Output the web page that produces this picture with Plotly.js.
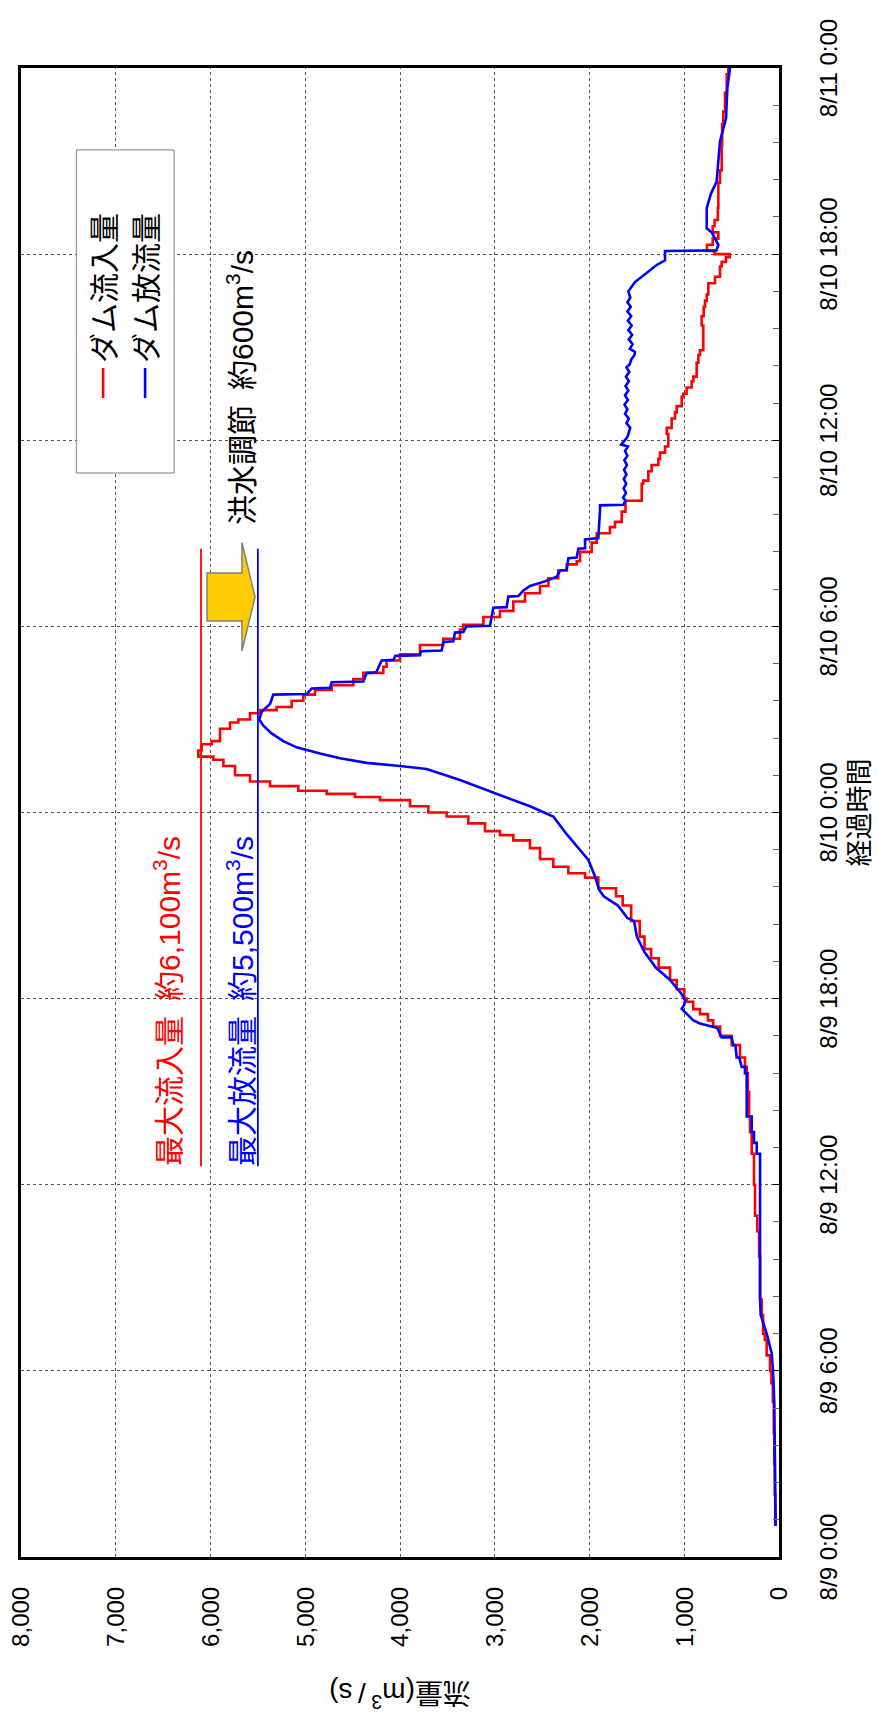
<!DOCTYPE html>
<html>
<head>
<meta charset="utf-8">
<script src="https://cdn.plot.ly/plotly-3.0.1.min.js"></script>
<style>
html, body { margin:0; padding:0; width:877px; height:1722px; overflow:hidden; background:#fff; }
#wrap { position:absolute; left:0; top:0; width:1722px; height:877px; transform-origin:0 0; transform: translateY(1722px) rotate(-90deg); }
#chart { width:1722px; height:877px; }
</style>
</head>
<body>
<div id="wrap"><div id="chart"></div></div>
<script>
// ---- data (hours from 8/9 0:00, flow m3/s) ----
const tickHours = [0, 6, 12, 18, 24, 30, 36, 42, 48];
const tickLabels = ['8/9 0:00','8/9 6:00','8/9 12:00','8/9 18:00','8/10 0:00','8/10 6:00','8/10 12:00','8/10 18:00','8/11 0:00'];

const inflowHours = [1.0,2.0,3.0,4.0,5.0,5.6,6.0,6.5,7.0,7.2,7.8,8.3,9.7,10.5,11.0,12.0,13.0,13.7,14.2,15.0,15.6,15.8,16.1,16.5,16.8,17.1,17.3,17.5,17.66,17.9,18.0,18.3,18.6,19.0,19.3,19.6,20.0,20.5,21.0,21.3,21.56,21.9,22.04,22.25,22.5,22.85,23.1,23.27,23.4,23.65,23.87,24.0,24.2,24.4,24.5,24.6,24.7,24.85,25.0,25.2,25.5,25.7,25.8,26.0,26.2,26.3,26.7,26.9,27.0,27.2,27.3,27.4,27.6,27.8,27.95,28.1,28.3,28.5,28.7,28.9,29.1,29.4,29.6,29.9,30.05,30.3,30.5,30.8,31.07,31.3,31.55,31.8,32.0,32.1,32.4,32.7,33.0,33.2,33.37,33.7,34.05,34.6,34.7,35.0,35.2,35.4,35.6,35.8,36.2,36.4,36.7,36.9,37.1,37.4,37.5,37.7,37.9,38.05,38.5,38.75,38.9,39.7,40.0,40.3,40.5,40.7,41.06,41.27,41.6,41.75,41.9,42.0,42.1,42.3,42.5,42.7,42.9,43.1,43.5,44.3,44.7,45.5,46.2,46.6,47.2,47.8,48.0];
const inflowValues = [40,45,50,55,65,80,95,130,150,168,183,200,210,230,253,264,288,306,316,330,341,359,412,500,622,694,750,834,905,974,1000,1080,1150,1270,1350,1420,1470,1560,1650,1720,1907,2047,2223,2382,2522,2628,2804,2945,3103,3279,3507,3701,3894,4211,4475,4774,5073,5372,5583,5741,5864,5970,6128,6093,5988,5900,5794,5706,5583,5478,5302,5143,5020,4897,4721,4493,4387,4176,4141,4000,3789,3543,3367,3332,3120,2945,2804,2681,2522,2434,2330,2240,2135,2100,1977,1924,1784,1731,1660,1620,1449,1432,1379,1344,1273,1256,1203,1168,1185,1133,1098,1080,1027,1010,975,922,904,869,851,834,799,816,795,781,763,746,675,623,605,560,520,680,760,700,640,700,680,645,640,623,605,600,588,570,552,535,535];

const outflowHours = [1.0,3.0,5.0,6.0,6.56,7.2,7.8,8.3,12.0,13.0,13.0,13.35,13.35,13.7,13.7,14.2,14.2,15.6,15.6,15.8,15.8,16.1,16.1,16.5,16.5,16.75,16.75,17.05,17.1,17.2,17.3,17.5,17.67,17.8,17.96,18.2,18.6,19.0,19.5,20.0,20.5,20.6,21.0,21.3,21.5,22.0,22.47,23.3,23.87,24.2,24.6,25.05,25.4,25.5,25.6,25.75,25.9,26.1,26.3,26.55,26.8,27.0,27.25,27.5,27.8,27.82,28.0,28.02,28.2,28.22,28.5,28.52,28.9,28.92,29.05,29.07,29.2,29.22,29.5,29.52,29.8,29.82,30.0,30.02,30.6,30.62,30.96,30.98,31.15,31.3,31.45,31.6,31.8,31.82,32.2,32.22,32.5,32.52,32.8,32.82,32.85,33.75,33.9,33.92,34.05,34.15,34.3,34.45,34.6,34.75,34.9,35.05,35.2,35.35,35.5,35.65,35.8,35.86,35.95,36.1,36.25,36.4,36.55,36.7,36.85,37.0,37.15,37.3,37.45,37.6,37.75,37.9,38.05,38.2,38.35,38.45,38.6,38.75,38.85,38.95,39.1,39.25,39.4,39.55,39.7,39.85,40.0,40.15,40.3,40.45,40.6,40.8,41.1,41.27,41.5,41.65,41.8,42.1,42.12,42.3,42.7,42.83,43.48,43.96,44.34,45.63,46.38,47.35,48.0];
const outflowValues = [35,40,50,63,77,130,193,200,200,200,235,235,264,264,288,288,341,341,359,359,394,420,447,460,482,500,605,650,711,834,904,974,1027,1000,992,1040,1150,1300,1420,1500,1530,1600,1700,1850,1896,1950,2012,2241,2382,2628,2980,3367,3719,4000,4352,4633,4844,5091,5231,5355,5442,5485,5460,5372,5337,4985,4932,4739,4721,4387,4352,4250,4194,4070,4050,3789,3780,3560,3543,3437,3420,3330,3300,3050,3015,2874,2857,2750,2700,2628,2470,2346,2311,2241,2223,2135,2118,2047,2047,1942,1907,1889,1889,1643,1620,1645,1615,1640,1612,1638,1610,1635,1605,1632,1600,1625,1595,1665,1640,1600,1585,1570,1610,1585,1625,1600,1630,1595,1625,1590,1620,1585,1615,1580,1610,1575,1560,1525,1520,1575,1545,1585,1550,1590,1555,1595,1560,1600,1565,1600,1570,1590,1520,1449,1361,1291,1203,1203,660,640,710,763,763,717,658,623,559,545,517];

const maxInflow = 6100;
const maxOutflow = 5500;
const labelInflow = '最大流入量\u2002約6,100m<sup>3</sup>/s';
const labelOutflow = '最大放流量\u2002約5,500m<sup>3</sup>/s';
const labelControl = '洪水調節\u2002約600m<sup>3</sup>/s';

const FONT = 'Liberation Sans, Arial, Noto Sans CJK JP, sans-serif';

const traces = [
  {x: inflowHours, y: inflowValues, type:'scatter', mode:'lines', name:'ダム流入量', legendgroup:'a',
   line:{color:'#ff0000', width:2.6, shape:'hv'}},
  {x: outflowHours, y: outflowValues, type:'scatter', mode:'lines', name:'ダム放流量', legendgroup:'b',
   line:{color:'#0000ff', width:2.6}}
];

// arrow geometry (data units)
const arrowPath = 'M30.17,6037 L31.72,6037 L31.72,5668 L32.7,5668 L30.95,5530 L29.2,5668 L30.17,5668 Z';

const layout = {
  width:1722, height:877,
  margin:{l:165, r:68, t:21, b:98},
  paper_bgcolor:'#fff', plot_bgcolor:'#fff',
  font:{family:FONT, size:24, color:'#000'},
  showlegend:true,
  legend:{x:0.775, y:0.926, xanchor:'left', yanchor:'top', bgcolor:'rgba(0,0,0,0)', borderwidth:0,
          font:{size:30, family:FONT}, tracegroupgap:10, traceorder:'normal'},
  xaxis:{range:[0,48], tickmode:'array', tickvals:tickHours, ticktext:tickLabels,
         ticks:'inside', ticklen:6, tickcolor:'#000', tickwidth:1,
         showline:true, linecolor:'#000', linewidth:3, mirror:true,
         showgrid:true, gridcolor:'#555', griddash:'dot', gridwidth:1, zeroline:false,
         minor:{tick0:0, dtick:1.2, ticks:'inside', ticklen:6, tickcolor:'#666', showgrid:false},
         tickfont:{size:24}, ticklabelstandoff:26,
         title:{text:'経過時間', font:{size:27}, standoff:10}, automargin:false},
  yaxis:{range:[0,8000], tickmode:'linear', tick0:0, dtick:1000, tickformat:',d',
         ticks:'', showline:true, linecolor:'#000', linewidth:3, mirror:true,
         showgrid:true, gridcolor:'#555', griddash:'dot', gridwidth:1, zeroline:false,
         tickfont:{size:24}, ticklabelstandoff:22,
         title:{text:'流量(m<sup>3</sup>\u2009/\u2009s)', font:{size:28}, standoff:28}, automargin:false},
  shapes:[
    {type:'rect', xref:'paper', yref:'paper', x0:0.728, x1:0.945, y0:0.798, y1:0.927,
     line:{color:'#808080', width:1}, fillcolor:'#fff', layer:'above'},
    {type:'line', xref:'x', yref:'y', x0:12.6, x1:32.5, y0:maxInflow, y1:maxInflow, line:{color:'#ff0000', width:1.8}},
    {type:'line', xref:'x', yref:'y', x0:12.6, x1:32.5, y0:maxOutflow, y1:maxOutflow, line:{color:'#0000ff', width:1.8}},
    {type:'path', xref:'x', yref:'y', path:arrowPath, fillcolor:'#ffcc00', line:{color:'#808080', width:1.5}}
  ],
  annotations:[
    {xref:'x', yref:'y', x:12.55, y:6459, xanchor:'left', yanchor:'middle', text:labelInflow, showarrow:false,
     font:{size:30, color:'#ff0000', family:FONT}},
    {xref:'x', yref:'y', x:12.55, y:5690, xanchor:'left', yanchor:'middle', text:labelOutflow, showarrow:false,
     font:{size:30, color:'#0000ff', family:FONT}},
    {xref:'x', yref:'y', x:33.2, y:5685, xanchor:'left', yanchor:'middle', text:labelControl, showarrow:false,
     font:{size:30, color:'#000', family:FONT}}
  ]
};

Plotly.newPlot('chart', traces, layout, {staticPlot:true, displayModeBar:false});
</script>
</body>
</html>
